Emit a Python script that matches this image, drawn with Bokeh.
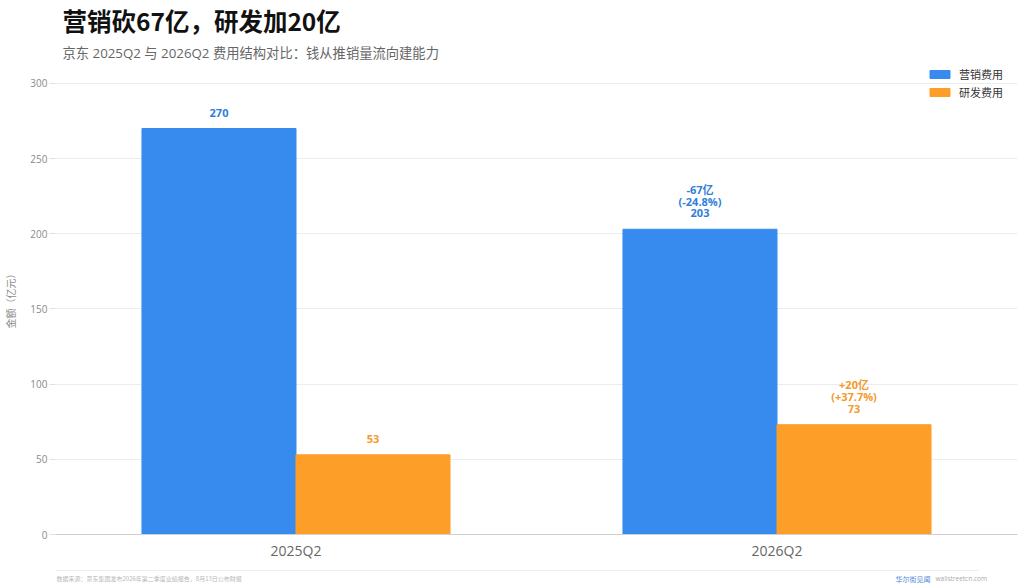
from bokeh.plotting import figure
from bokeh.models import (ColumnDataSource, Range1d, FactorRange, FixedTicker,
                          Legend, LegendItem)
from bokeh.transform import dodge
from bokeh.layouts import column
from bokeh.core.properties import value
from bokeh.embed import file_html
from bokeh.resources import INLINE

# ---------------- data ----------------
categories = ["2025Q2", "2026Q2"]
series_names = ["营销费用", "研发费用"]
marketing = [270, 203]
rnd = [53, 73]
y_ticks = [0, 50, 100, 150, 200, 250, 300]

title_text = "营销砍67亿，研发加20亿"
subtitle_text = "京东 2025Q2 与 2026Q2 费用结构对比：钱从推销量流向建能力"
y_label = "金额（亿元）"
footer_left = "数据来源：京东集团发布2026年第二季度业绩报告，8月13日公布财报"
footer_brand = "华尔街见闻"
footer_site = "wallstreetcn.com"

# ---------------- styles ----------------
FONT = "Open Sans, Noto Sans CJK SC, sans-serif"
CJK = "Noto Sans CJK SC, sans-serif"
BLUE = "#388bee"
ORANGE = "#fd9e29"
BLUE_T = "#2f7ed9"
ORANGE_T = "#f39a2c"
W = 1024
LB = 55            # left border shared by all stacked figures
RB = 7             # right border
FW = W - LB - RB   # frame width


def blank(h):
    f = figure(width=W, height=h, x_range=Range1d(0, FW), y_range=Range1d(h, 0),
               output_backend="svg", toolbar_location=None,
               min_border_left=LB, min_border_right=RB, min_border_top=0,
               min_border_bottom=0, outline_line_color=None)
    f.axis.visible = False
    f.grid.visible = False
    f.background_fill_color = "white"
    f.border_fill_color = "white"
    return f


# ---------------- header ----------------
head = blank(62)
head.text(x=[7], y=[20], text=[title_text], text_font=value(CJK),
          text_font_size="24.5px", text_font_style="bold", text_color="#111111",
          text_baseline="middle", text_align="left")
head.text(x=[7], y=[52], text=[subtitle_text], text_font=value(FONT),
          text_font_size="13.3px", text_color="#666666",
          text_baseline="middle", text_align="left")

# ---------------- main chart ----------------
src = ColumnDataSource(dict(cat=categories, marketing=marketing, rnd=rnd))

p = figure(width=W, height=500, x_range=FactorRange(*categories, range_padding=0),
           y_range=Range1d(0, 313.9), output_backend="svg", toolbar_location=None,
           min_border_left=LB, min_border_right=RB, min_border_top=0,
           min_border_bottom=25, outline_line_color=None)
p.background_fill_color = "white"
p.border_fill_color = "white"

bw = 0.3202
r1 = p.vbar(x=dodge("cat", -bw / 2, range=p.x_range), top="marketing", width=bw,
            source=src, fill_color=BLUE, line_color=BLUE)
r2 = p.vbar(x=dodge("cat", bw / 2, range=p.x_range), top="rnd", width=bw,
            source=src, fill_color=ORANGE, line_color=ORANGE)


def add_labels(vals, off, color):
    kw = dict(text_font=value(FONT), text_font_size="11px", text_font_style="bold",
              text_color=color, text_align="center", text_baseline="middle")
    s = ColumnDataSource(dict(cat=categories, y=vals, v=[str(v) for v in vals]))
    p.text(x=dodge("cat", off, range=p.x_range), y="y", text="v", source=s,
           y_offset=-16, **kw)
    diff = vals[1] - vals[0]
    pct = diff / vals[0] * 100
    s2 = ColumnDataSource(dict(cat=[categories[1]], y=[vals[1]],
                               a=[f"{diff:+d}亿"], b=[f"({pct:+.1f}%)"]))
    p.text(x=dodge("cat", off, range=p.x_range), y="y", text="b", source=s2,
           y_offset=-28, **kw)
    p.text(x=dodge("cat", off, range=p.x_range), y="y", text="a", source=s2,
           y_offset=-40, **kw)


add_labels(marketing, -bw / 2, BLUE_T)
add_labels(rnd, bw / 2, ORANGE_T)

# axes
p.yaxis.ticker = FixedTicker(ticks=y_ticks)
p.yaxis.axis_line_color = None
p.yaxis.major_tick_out = 6
p.yaxis.major_tick_in = 0
p.yaxis.minor_tick_out = 0
p.yaxis.minor_tick_in = 0
p.yaxis.major_tick_line_color = "#e0e0e0"
p.yaxis.major_label_standoff = 2
p.yaxis.major_label_text_font = FONT
p.yaxis.major_label_text_font_size = "10px"
p.yaxis.major_label_text_color = "#8a8a8a"
p.yaxis.axis_label = y_label
p.yaxis.axis_label_text_font = CJK
p.yaxis.axis_label_text_font_size = "10px"
p.yaxis.axis_label_text_font_style = "normal"
p.yaxis.axis_label_text_color = "#8a8a8a"
p.yaxis.axis_label_standoff = 9

p.xaxis.axis_line_color = "#cfcfcf"
p.xaxis.major_tick_out = 0
p.xaxis.major_tick_in = 0
p.xaxis.major_label_standoff = 6
p.xaxis.major_label_text_font = FONT
p.xaxis.major_label_text_font_size = "14px"
p.xaxis.major_label_text_color = "#666666"

p.xgrid.grid_line_color = None
p.ygrid.grid_line_color = "#ececec"
p.ygrid.ticker = FixedTicker(ticks=y_ticks)

legend = Legend(items=[LegendItem(label=series_names[0], renderers=[r1]),
                       LegendItem(label=series_names[1], renderers=[r2])],
                location=(872, 433), orientation="vertical",
                glyph_width=25, glyph_height=10, label_height=18,
                label_standoff=7, spacing=0, padding=3, margin=0,
                border_line_color=None, background_fill_alpha=0,
                label_text_font=CJK, label_text_font_size="11px",
                label_text_color="#333333")
p.add_layout(legend)

# ---------------- footer ----------------
foot = blank(24)
foot.segment(x0=[0], y0=[8], x1=[923], y1=[8], line_color="#eeeeee", line_width=1)
foot.text(x=[1], y=[16], text=[footer_left], text_font=value(CJK),
          text_font_size="6px", text_color="#b8b8b8", text_baseline="middle",
          text_align="left")
foot.text(x=[840], y=[16], text=[footer_brand], text_font=value(CJK),
          text_font_size="7px", text_color="#4a86d8", text_baseline="middle",
          text_align="left")
foot.text(x=[880], y=[16], text=[footer_site], text_font=value(FONT),
          text_font_size="6.5px", text_color="#aaaaaa", text_baseline="middle",
          text_align="left")

layout = column(head, p, foot, spacing=0)
open("out.html", "w").write(file_html(layout, INLINE))
